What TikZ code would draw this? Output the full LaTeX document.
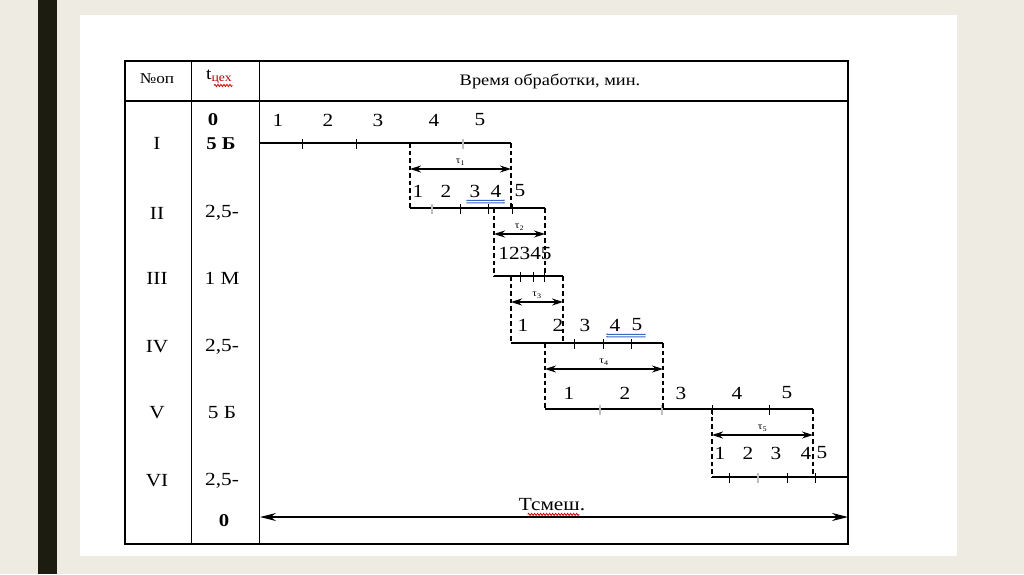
\documentclass[tikz,border=0pt]{standalone}
\usepackage{fontspec}
\setmainfont{Liberation Serif}[FakeStretch=1.15]
\usetikzlibrary{arrows.meta, calc, decorations.pathmorphing}
\definecolor{bgbeige}{HTML}{EEEBE3}
\definecolor{barblack}{HTML}{1C1C10}
\definecolor{ulblue}{HTML}{3A66C0}
\tikzset{
  frame/.style={line width=1.4pt},
  opline/.style={line width=1.3pt},
  tickmark/.style={line width=0.9pt},
  greytick/.style={gray!50, line width=1.8pt},
  tauline/.style={dash pattern=on 4.5pt off 3pt, line width=1.1pt},
  tauarrow/.style={{Stealth[length=11pt,width=7pt]}-{Stealth[length=11pt,width=7pt]}, line width=1.2pt},
  longarrow/.style={{Stealth[length=16pt,width=8pt]}-{Stealth[length=16pt,width=8pt]}, line width=1.2pt},
  cell/.style={font=\fontsize{18.5}{21}\selectfont, inner sep=0pt},
  numlbl/.style={font=\fontsize{18.5}{21}\selectfont, inner sep=0pt},
  hdr/.style={font=\fontsize{15}{17}\selectfont, inner sep=0pt},
  taulbl/.style={font=\fontsize{10}{11}\selectfont, inner sep=0pt},
  dblul/.style={ulblue, line width=1.1pt},
  squiggle/.style={red!85!black, line width=0.8pt, decorate,
    decoration={snake, amplitude=1.1pt, segment length=3pt}},
}

\begin{document}
\begin{tikzpicture}[x=1pt, y=-1pt]
  \fill[bgbeige] (0,0) rectangle (1024,574);
  \fill[barblack] (38,0) rectangle (57,574);
  \fill[white] (80,15) rectangle (957,556);
  \useasboundingbox (0,0) rectangle (1024,574);

  % table
  \draw[frame] (125,61) rectangle (848,544);
  \draw[frame] (191.5,61) -- (191.5,544) (259.5,61) -- (259.5,544) (125,101) -- (848,101);

  \node[hdr] (nop) at (157,79) {№оп};
  \node[hdr, font=\fontsize{17}{19}\selectfont, anchor=west] (tceh) at (206,77) {t\textsubscript{\color{red!70!black}цех}};
  \draw[squiggle] ($(tceh.south west)+(8,1)$) -- ($(tceh.south east)+(0,1)$);
  \node[hdr, font=\fontsize{16}{18}\selectfont] (title) at (550,81) {Время обработки, мин.};

  \foreach \r/\y in {I/143, II/213, III/278, IV/347, V/413, VI/481}
    \node[cell] (op\r) at (157,\y) {\r};

  \node[cell, font=\fontsize{18}{21}\selectfont\bfseries] (t0) at (213,120) {0};
  \node[cell, font=\fontsize{18}{21}\selectfont\bfseries] (t1) at (221,144) {5 Б};
  \foreach \n/\t/\y in {2/{2,5-}/213, 3/{1 М}/278, 4/{2,5-}/347, 5/{5 Б}/413, 6/{2,5-}/481}
    \node[cell] (t\n) at (222,\y) {\t};
  \node[cell, font=\fontsize{18}{21}\selectfont\bfseries] (t7) at (224,521) {0};

  % operation lines
  \foreach \i/\xa/\xb/\y in {1/260/511/143, 2/410/545/208, 3/494/563/276,
                             4/511/663/343, 5/545/813/409, 6/712/848/477}{
    \coordinate (s\i) at (\xa,\y);
    \coordinate (e\i) at (\xb,\y);
    \draw[opline] (s\i) -- (e\i);
  }

  \foreach \x/\y in {302/143, 356/143, 460/208, 488/208, 512/208, 520/276, 533/276,
                     544/276, 574/343, 603/343, 631/343, 712/409, 769/409,
                     729/477, 787/477, 815/477}
    \draw[tickmark] (\x,\y-4) -- (\x,\y+6);
  \foreach \x/\y in {463/143, 432/208, 600/409, 662/409, 758/477}
    \draw[greytick] (\x,\y-4) -- (\x,\y+6);

  % shifts
  \foreach \i/\j in {1/2, 2/3, 3/4, 4/5, 5/6}{
    \draw[tauline] (s\j |- e\i) -- (s\j);
    \draw[tauline] (e\i) -- (e\i |- s\j);
    \coordinate (al\i) at ($(s\j |- e\i)+(0,26)$);
    \coordinate (ar\i) at ($(e\i)+(0,26)$);
    \draw[tauarrow] (al\i) -- (ar\i) node[taulbl, midway, above=3pt] (tau\i) {τ\textsubscript{\i}};
  }

  % part numbers
  \foreach \r/\y/\xs in {0/120/{278,328,378,434,480}, 1/191/{418,446,475,496,520},
                         3/325/{523,558,585,615,637}, 4/393/{569,625,681,737,787},
                         5/453/{720,748,776,806,822}}
    \foreach \x [count=\k] in \xs
      \node[numlbl] (d\r\k) at (\x,\y) {\k};
  \node[numlbl] (d2) at (525,253) {12345};

  \draw[dblul] ($(d13.south west)+(-3,3)$) -- ($(d14.south east)+(3,3)$)
               ($(d13.south west)+(-3,5.5)$) -- ($(d14.south east)+(3,5.5)$);
  \draw[dblul] ($(d34.south west)+(-3,3)$) -- ($(d35.south east)+(3,3)$)
               ($(d34.south west)+(-3,5.5)$) -- ($(d35.south east)+(3,5.5)$);

  % total
  \coordinate (tl) at (260,517);
  \coordinate (tr) at (848,517);
  \draw[longarrow] (tl) -- (tr);
  \node[cell] (tsm) at (552,505) {Тсмеш.};
  \draw[squiggle] ($(tsm.south west)+(9,3)$) -- ($(tsm.south east)+(-6,3)$);
\end{tikzpicture}
\end{document}
